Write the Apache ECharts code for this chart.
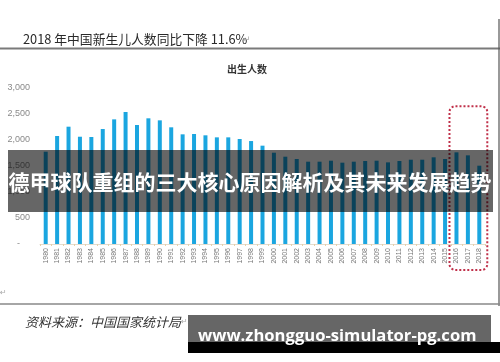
<!DOCTYPE html>
<html>
<head>
<meta charset="utf-8">
<script src="https://cdn.jsdelivr.net/npm/echarts@6/dist/echarts.min.js"></script>
<style>
html,body{margin:0;padding:0;background:#fff;}
#c{width:500px;height:362px;}
</style>
</head>
<body>
<div id="c"></div>
<script>
var years = ['1980','1981','1982','1983','1984','1985','1986','1987','1988','1989',
  '1990','1991','1992','1993','1994','1995','1996','1997','1998','1999',
  '2000','2001','2002','2003','2004','2005','2006','2007','2008','2009',
  '2010','2011','2012','2013','2014','2015','2016','2017','2018'];
var births = [1775,2077,2256,2063,2058,2211,2397,2538,2288,2417,
  2378,2244,2109,2115,2090,2051,2051,2019,1980,1891,
  1756,1679,1635,1583,1583,1602,1564,1583,1596,1602,
  1570,1596,1621,1621,1667,1635,1763,1705,1506];
var yTicks = [0,500,1000,1500,2000,2500,3000];
var highlightYears = ['2016','2018'];
var headline = '2018 年中国新生儿人数同比下降 11.6%';
var chartTitle = '出生人数';
var sourceText = '资料来源：中国国家统计局';
var bannerText = '德甲球队重组的三大核心原因解析及其未来发展趋势';
var watermark = 'www.zhongguo-simulator-pg.com';

var chart = echarts.init(document.getElementById('c'), null, {renderer:'canvas'});
chart.setOption({
  animation:false,
  backgroundColor:'#ffffff',
  grid:{left:40, right:15, top:88, bottom:118},
  xAxis:{
    type:'category', data:years,
    axisLine:{lineStyle:{color:'#e2dccf', width:1}},
    axisTick:{show:true, length:2, lineStyle:{color:'#e8cfa8'}},
    axisLabel:{rotate:90, fontSize:7, color:'#777', margin:4, interval:0, fontFamily:'Liberation Sans'}
  },
  yAxis:{
    type:'value', min:yTicks[0], max:yTicks[yTicks.length-1], interval:500,
    axisLine:{show:false}, axisTick:{show:false},
    splitLine:{show:false},
    axisLabel:{fontSize:9, color:'#8a8a8a', margin:10, fontFamily:'Liberation Sans',
      formatter:function(v){ return v===0 ? '-    ' : v.toLocaleString('en-US'); }}
  },
  series:[{type:'bar', data:births, barWidth:4, itemStyle:{color:'#1ba6e0'}}]
});

var p16 = chart.convertToPixel({xAxisIndex:0}, highlightYears[0]);
var p18 = chart.convertToPixel({xAxisIndex:0}, highlightYears[1]);
var yTop = chart.convertToPixel({yAxisIndex:0}, 2650);
var yZero = chart.convertToPixel({yAxisIndex:0}, 0);

chart.setOption({
  graphic:[
    {type:'text', left:23, top:33, z:50, style:{text:headline, fontSize:12.8, fill:'#2a2a2a', fontFamily:'Noto Sans CJK SC'}},
    {type:'text', left:243, top:35, z:50, style:{text:'↵', fontSize:9, fill:'#aaa', fontFamily:'DejaVu Sans'}},
    {type:'line', z:50, shape:{x1:0, y1:48.5, x2:500, y2:48.5}, style:{stroke:'#7a7a7a', lineWidth:2}},
    {type:'line', z:50, shape:{x1:499, y1:19, x2:499, y2:306}, style:{stroke:'#555', lineWidth:1.2}},
    {type:'text', left:227, top:64, z:50, style:{text:chartTitle, fontSize:10, fontWeight:'bold', fill:'#333', fontFamily:'Noto Sans CJK SC'}},
    {type:'text', left:0, top:289, z:50, style:{text:'↵', fontSize:8, fill:'#aaa', fontFamily:'DejaVu Sans'}},
    {type:'line', z:50, shape:{x1:0, y1:304, x2:500, y2:304}, style:{stroke:'#888', lineWidth:1.5}},
    {type:'text', left:25, top:316, z:50, style:{text:sourceText, fontSize:13, fontStyle:'italic', fill:'#333', fontFamily:'Noto Sans CJK SC'}},
    {type:'text', left:181, top:318, z:50, style:{text:'↵', fontSize:8, fill:'#aaa', fontFamily:'DejaVu Sans'}},
    {type:'rect', z:60, shape:{x:p16-7, y:yTop, width:(p18-p16)+15, height:(yZero+26)-yTop, r:6},
      style:{fill:'none', stroke:'#c0304a', lineWidth:2, lineDash:[2,2]}},
    {type:'rect', z:100, shape:{x:8, y:150, width:485, height:62}, style:{fill:'rgba(0,0,0,0.6)'}},
    {type:'text', z:101, x:250, y:182, style:{text:bannerText, fontSize:21, fontWeight:'bold', fill:'#fff',
      align:'center', verticalAlign:'middle', fontFamily:'Noto Sans CJK SC'}},
    {type:'rect', z:100, shape:{x:188, y:315, width:303, height:27}, style:{fill:'#666'}},
    {type:'rect', z:100, shape:{x:188, y:342, width:312, height:11}, style:{fill:'#000'}},
    {type:'text', z:101, x:198, y:336, style:{text:watermark, fontSize:16.6, fontWeight:'bold', fill:'#fff',
      align:'left', verticalAlign:'middle', fontFamily:'Open Sans'}}
  ]
});
</script>
</body>
</html>
